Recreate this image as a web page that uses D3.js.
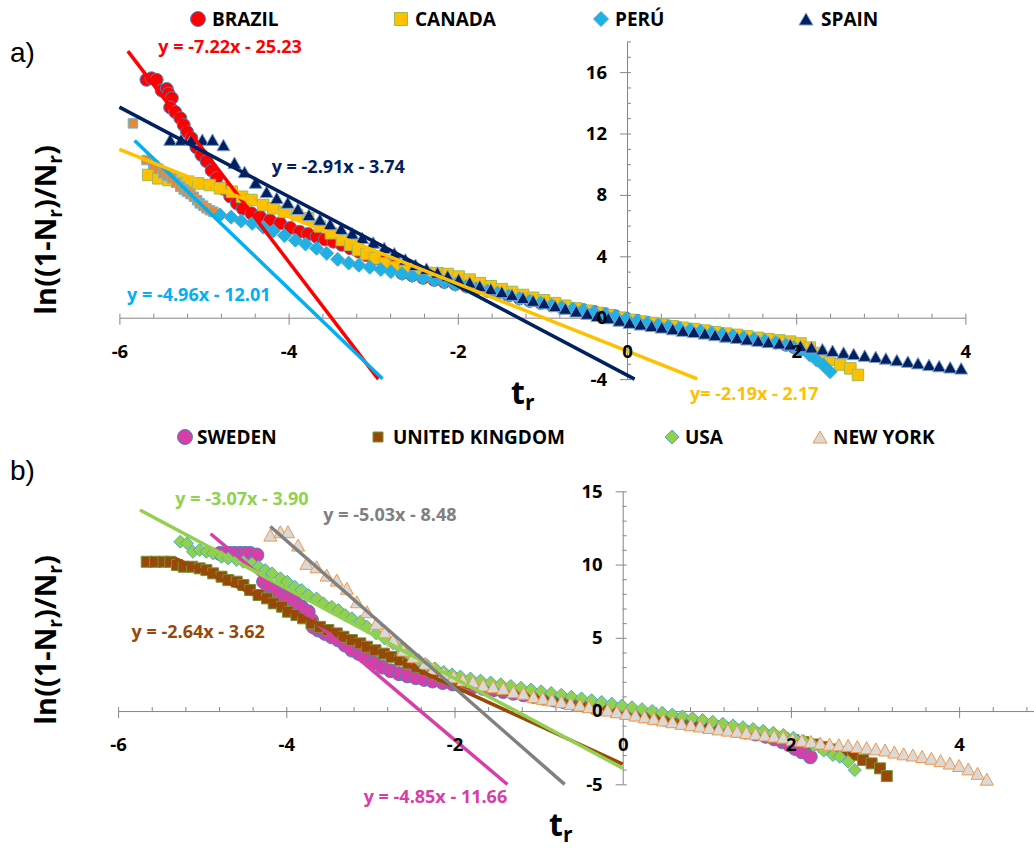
<!DOCTYPE html>
<html>
<head>
<meta charset="utf-8">
<script src="https://cdn.jsdelivr.net/npm/d3@7"></script>
<style>
  body { margin: 0; background: #fff; }
  svg text { font-family: "Open Sans", "DejaVu Sans", sans-serif; font-weight: bold; }
</style>
</head>
<body>
<svg id="chart" width="1034" height="848"></svg>
<script>
// ---------- panel a) data : [t_r, ln((1-Nr)/Nr)] ----------
const namesA = ["BRAZIL", "CANADA", "PERÚ", "SPAIN"];

const brazil = [[-5.68,15.5],[-5.62,15.6],[-5.56,15.5],[-5.50,14.8],[-5.44,14.9],[-5.42,14.6],[-5.38,14.3],[-5.40,13.7],
  [-5.34,13.4],[-5.28,13.0],[-5.24,12.55],[-5.20,12.1],[-5.15,11.7],[-5.09,11.1],[-5.03,10.6],[-4.97,10.2],[-4.91,9.6],
  [-4.85,9.1],[-4.77,8.4],[-4.69,7.9],[-4.61,7.45],[-4.54,7.1],[-4.44,6.8],[-4.34,6.6],[-4.22,6.35],[-4.10,6.15],
  [-3.98,5.85],[-3.87,5.6],[-3.77,5.45],[-3.67,5.28],[-3.57,5.1],[-3.47,4.95],[-3.37,4.75],[-3.27,4.52],[-3.17,4.3],
  [-3.08,4.08],[-2.98,3.85],[-2.88,3.65],[-2.76,3.45],[-2.66,2.9],[-2.54,2.76],[-2.41,2.6],[-2.28,2.47],[-2.16,2.33],
  [-2.03,2.19],[-1.90,2.05],[-1.78,1.91],[-1.65,1.76],[-1.53,1.62],[-1.40,1.44],[-1.27,1.26],[-1.15,1.1],[-1.02,0.97],
  [-0.89,0.83],[-0.77,0.69],[-0.64,0.58],[-0.52,0.5],[-0.39,0.38],[-0.26,0.23],[-0.14,0.1],[-0.01,-0.06],[0.12,-0.2],
  [0.24,-0.33],[0.37,-0.45],[0.49,-0.57],[0.62,-0.68],[0.75,-0.78],[0.87,-0.88],[1.00,-0.98],[1.13,-1.08],[1.25,-1.18],
  [1.38,-1.28],[1.50,-1.38],[1.63,-1.48],[1.76,-1.6],[1.88,-1.76],[1.97,-1.9],[2.05,-2.05]];

const canada = [[-5.66,9.3],[-5.54,9.08],[-5.42,8.97],[-5.30,8.97],[-5.19,8.86],[-5.07,8.75],[-4.93,8.64],[-4.81,8.43],
  [-4.67,8.21],[-4.55,7.88],[-4.44,7.67],[-4.30,7.34],[-4.18,7.13],[-4.05,6.9],[-3.90,6.69],[-3.77,6.48],[-3.63,5.95],
  [-3.50,5.5],[-3.37,5.06],[-3.27,4.75],[-3.18,4.41],[-3.08,4.15],[-2.98,3.87],[-2.86,3.55],[-2.74,3.3],[-2.62,3.12],
  [-2.49,3.0],[-2.37,2.92],[-2.24,2.9],[-2.12,2.85],[-1.99,2.68],[-1.86,2.48],[-1.74,2.25],[-1.61,2.05],[-1.48,1.86],
  [-1.36,1.68],[-1.23,1.48],[-1.11,1.3],[-0.98,1.13],[-0.85,0.95],[-0.73,0.78],[-0.60,0.6],[-0.47,0.45],[-0.35,0.31],
  [-0.22,0.16],[-0.09,0.0],[0.03,-0.14],[0.16,-0.25],[0.29,-0.35],[0.41,-0.45],[0.54,-0.56],[0.66,-0.66],[0.79,-0.74],
  [0.92,-0.84],[1.04,-0.94],[1.17,-1.04],[1.30,-1.12],[1.42,-1.22],[1.55,-1.31],[1.67,-1.4],[1.80,-1.48],[1.93,-1.56],
  [2.05,-1.68],[2.16,-1.95],[2.28,-2.3],[2.40,-2.75],[2.52,-3.05],[2.64,-3.3],[2.73,-3.73]];

// orange points at the head of the Perú curve
const peruEarly = [[-5.84,12.66],[-5.68,10.27],[-5.60,9.95],[-5.54,9.7],[-5.48,9.4],[-5.43,9.25],[-5.38,9.08],[-5.33,8.8],
  [-5.28,8.53],[-5.24,8.35],[-5.20,8.2],[-5.16,8.05],[-5.12,7.88],[-5.08,7.65],[-5.05,7.45],[-5.01,7.3],[-4.97,7.13],
  [-4.93,7.0],[-4.89,6.9]];

const peru = [[-4.81,6.69],[-4.68,6.55],[-4.56,6.3],[-4.43,6.15],[-4.30,5.9],[-4.18,5.65],[-4.05,5.35],[-3.92,5.05],
  [-3.80,4.8],[-3.67,4.52],[-3.55,4.2],[-3.42,3.8],[-3.29,3.56],[-3.17,3.42],[-3.04,3.28],[-2.91,3.14],[-2.79,3.0],
  [-2.66,2.87],[-2.54,2.73],[-2.41,2.58],[-2.28,2.45],[-2.16,2.31],[-2.03,2.17],[-1.90,2.03],[-1.78,1.89],[-1.65,1.74],
  [-1.53,1.6],[-1.40,1.42],[-1.27,1.24],[-1.15,1.08],[-1.02,0.95],[-0.89,0.81],[-0.77,0.67],[-0.64,0.56],[-0.52,0.48],
  [-0.39,0.36],[-0.26,0.21],[-0.14,0.08],[-0.01,-0.08],[0.12,-0.22],[0.24,-0.35],[0.37,-0.47],[0.49,-0.59],[0.62,-0.7],
  [0.75,-0.8],[0.87,-0.9],[1.00,-1.0],[1.13,-1.1],[1.25,-1.2],[1.38,-1.3],[1.50,-1.4],[1.63,-1.5],[1.76,-1.62],
  [1.88,-1.78],[1.97,-1.93],[2.05,-2.11],[2.16,-2.43],[2.24,-2.76],[2.32,-3.08],[2.40,-3.52]];

const spain = [[-5.40,11.6],[-5.27,11.6],[-5.15,11.6],[-5.02,11.6],[-4.90,11.6],[-4.77,11.25],[-4.64,10.1],[-4.52,9.5],
  [-4.39,8.8],[-4.26,8.2],[-4.14,7.8],[-4.01,7.5],[-3.89,7.1],[-3.76,6.7],[-3.63,6.4],[-3.51,6.1],[-3.38,5.8],[-3.25,5.5],
  [-3.13,5.2],[-3.00,4.9],[-2.87,4.55],[-2.75,4.2],[-2.62,3.8],[-2.50,3.45],[-2.37,3.2],[-2.24,2.95],[-2.12,2.72],
  [-1.99,2.5],[-1.86,2.3],[-1.74,2.07],[-1.61,1.87],[-1.48,1.68],[-1.36,1.5],[-1.23,1.3],[-1.11,1.12],[-0.98,0.95],
  [-0.85,0.77],[-0.73,0.6],[-0.60,0.42],[-0.47,0.27],[-0.35,0.13],[-0.22,-0.02],[-0.09,-0.18],[0.03,-0.32],[0.16,-0.43],
  [0.29,-0.53],[0.41,-0.63],[0.54,-0.74],[0.66,-0.84],[0.79,-0.92],[0.92,-1.02],[1.04,-1.12],[1.17,-1.22],[1.30,-1.3],
  [1.42,-1.4],[1.55,-1.49],[1.67,-1.58],[1.80,-1.66],[1.93,-1.74],[2.05,-1.84],[2.18,-1.93],[2.31,-2.05],[2.43,-2.15],
  [2.56,-2.27],[2.68,-2.36],[2.81,-2.47],[2.94,-2.55],[3.06,-2.65],[3.19,-2.76],[3.32,-2.86],[3.44,-2.96],[3.57,-3.07],
  [3.69,-3.15],[3.82,-3.23],[3.95,-3.3]];

// trend lines of panel a (order: Brazil, Spain, Perú, Canada)
const fitLabelA = ["y = -7.22x - 25.23", "y = -2.91x - 3.74", "y = -4.96x - 12.01", "y= -2.19x - 2.17"];
const fitSlopeA = [-7.22, -2.91, -5.30, -2.19];
const fitInterceptA = [-25.23, -3.74, -19.30, -2.17];
const fitFromA = [-5.90, -6.0, -5.82, -6.0];
const fitToA = [-2.94, 0.09, -2.89, 0.83];
const fitLabelAtA = [[-5.54, 17.25], [-4.20, 9.43], [-5.91, 1.09], [0.745, -5.39]];

// ---------- panel b) data ----------
const namesB = ["SWEDEN", "UNITED KINGDOM", "USA", "NEW YORK"];

const sweden = [[-4.79,10.76],[-4.73,10.76],[-4.67,10.76],[-4.61,10.76],[-4.55,10.76],[-4.49,10.76],[-4.43,10.76],
  [-4.35,10.65],[-4.27,8.83],[-4.21,8.49],[-4.13,8.14],[-4.05,7.92],[-3.98,7.69],[-3.90,7.46],[-3.82,7.12],[-3.74,6.78],
  [-3.70,6.21],[-3.68,5.75],[-3.62,5.53],[-3.54,5.3],[-3.46,5.07],[-3.38,4.85],[-3.30,4.5],[-3.22,4.16],[-3.14,3.94],
  [-3.06,3.71],[-2.96,3.3],[-2.86,3.0],[-2.76,2.75],[-2.66,2.55],[-2.56,2.4],[-2.46,2.28],[-2.36,2.16],[-2.26,2.05],
  [-2.14,1.95],[-2.02,1.85],[-1.90,1.75],[-1.78,1.65],[-1.66,1.55],[-1.54,1.44],[-1.42,1.33],[-1.30,1.22],[-1.18,1.11],
  [-1.06,1.0],[-0.94,0.88],[-0.82,0.76],[-0.70,0.64],[-0.58,0.52],[-0.46,0.4],[-0.34,0.28],[-0.22,0.16],[-0.10,0.04],
  [0.02,-0.08],[0.14,-0.2],[0.26,-0.32],[0.38,-0.44],[0.50,-0.55],[0.62,-0.66],[0.74,-0.77],[0.86,-0.88],[0.98,-0.99],
  [1.10,-1.1],[1.22,-1.21],[1.34,-1.32],[1.46,-1.44],[1.58,-1.57],[1.70,-1.72],[1.80,-1.9],[1.90,-2.1],[1.98,-2.3],
  [2.05,-2.55],[2.13,-2.78],[2.23,-3.12]];

const unitedKingdom = [[-5.66,10.19],[-5.56,10.19],[-5.46,10.19],[-5.38,10.19],[-5.30,9.97],[-5.22,9.85],[-5.12,9.85],
  [-5.03,9.74],[-4.95,9.62],[-4.87,9.4],[-4.77,9.17],[-4.69,8.94],[-4.59,8.83],[-4.51,8.6],[-4.43,8.26],[-4.33,7.92],
  [-4.23,7.69],[-4.15,7.35],[-4.05,7.12],[-3.98,6.78],[-3.88,6.55],[-3.80,6.33],[-3.70,5.99],[-3.60,5.75],[-3.50,5.53],
  [-3.40,5.3],[-3.32,5.07],[-3.22,4.85],[-3.12,4.62],[-3.04,4.39],[-2.94,4.15],[-2.84,3.92],[-2.75,3.7],[-2.65,3.48],
  [-2.55,3.25],[-2.45,3.02],[-2.35,2.8],[-2.25,2.57],[-2.15,2.35],[-2.05,2.12],[-1.93,1.98],[-1.81,1.86],[-1.69,1.74],
  [-1.57,1.62],[-1.45,1.5],[-1.33,1.38],[-1.21,1.26],[-1.09,1.14],[-0.97,1.02],[-0.85,0.9],[-0.73,0.78],[-0.61,0.66],
  [-0.49,0.54],[-0.37,0.42],[-0.25,0.3],[-0.13,0.18],[-0.01,0.06],[0.11,-0.06],[0.23,-0.18],[0.35,-0.3],[0.47,-0.42],
  [0.59,-0.54],[0.71,-0.66],[0.83,-0.78],[0.95,-0.9],[1.07,-1.02],[1.19,-1.14],[1.31,-1.26],[1.43,-1.38],[1.55,-1.5],
  [1.67,-1.62],[1.79,-1.74],[1.91,-1.86],[2.03,-1.98],[2.15,-2.12],[2.27,-2.28],[2.39,-2.45],[2.50,-2.62],[2.62,-2.8],
  [2.74,-3.0],[2.86,-3.34],[2.96,-3.57],[3.06,-3.91],[3.14,-4.44]];

const usa = [[-5.26,11.56],[-5.18,11.45],[-5.11,10.87],[-5.03,10.99],[-4.95,10.87],[-4.87,10.76],[-4.77,10.53],
  [-4.69,10.42],[-4.59,10.31],[-4.51,10.19],[-4.41,10.08],[-4.33,9.85],[-4.25,9.62],[-4.17,9.4],[-4.07,9.06],[-3.99,8.83],
  [-3.90,8.49],[-3.82,8.26],[-3.74,7.92],[-3.64,7.69],[-3.56,7.35],[-3.46,7.12],[-3.38,6.89],[-3.30,6.55],[-3.22,6.33],
  [-3.12,6.1],[-3.04,5.75],[-2.93,5.3],[-2.83,4.95],[-2.73,4.62],[-2.63,4.22],[-2.53,3.82],[-2.43,3.48],[-2.33,3.14],
  [-2.23,2.9],[-2.13,2.68],[-2.03,2.5],[-1.93,2.36],[-1.81,2.22],[-1.69,2.08],[-1.57,1.95],[-1.45,1.83],[-1.33,1.71],
  [-1.21,1.59],[-1.09,1.47],[-0.97,1.35],[-0.85,1.23],[-0.73,1.11],[-0.61,0.98],[-0.49,0.86],[-0.37,0.74],[-0.25,0.62],
  [-0.13,0.5],[-0.01,0.38],[0.11,0.26],[0.23,0.13],[0.35,0.01],[0.47,-0.12],[0.59,-0.24],[0.71,-0.37],[0.83,-0.49],
  [0.95,-0.61],[1.07,-0.73],[1.19,-0.86],[1.31,-0.98],[1.43,-1.1],[1.55,-1.22],[1.67,-1.35],[1.79,-1.48],[1.91,-1.63],
  [2.03,-1.82],[2.15,-2.05],[2.27,-2.35],[2.39,-2.7],[2.50,-3.0],[2.58,-3.12],[2.68,-3.46],[2.76,-4.03]];

const newYork = [[-4.19,12.01],[-4.07,12.24],[-3.98,12.24],[-3.86,11.33],[-3.76,10.08],[-3.64,9.85],[-3.52,9.28],
  [-3.40,8.94],[-3.28,8.38],[-3.16,7.46],[-3.04,6.78],[-2.93,5.99],[-2.83,5.41],[-2.73,4.85],[-2.61,4.16],[-2.49,3.71],
  [-2.35,3.26],[-2.25,2.91],[-2.13,2.57],[-2.01,2.34],[-1.90,2.12],[-1.78,2.0],[-1.66,1.77],[-1.54,1.66],[-1.42,1.55],
  [-1.30,1.32],[-1.18,1.21],[-1.06,0.98],[-0.95,0.87],[-0.84,0.76],[-0.73,0.64],[-0.62,0.52],[-0.51,0.41],[-0.40,0.3],
  [-0.29,0.18],[-0.18,0.07],[-0.07,-0.05],[0.04,-0.16],[0.15,-0.27],[0.26,-0.39],[0.37,-0.5],[0.48,-0.61],[0.59,-0.73],
  [0.70,-0.84],[0.81,-0.93],[0.92,-1.02],[1.03,-1.12],[1.14,-1.22],[1.25,-1.3],[1.36,-1.38],[1.47,-1.46],[1.58,-1.55],
  [1.69,-1.63],[1.80,-1.7],[1.91,-1.78],[2.02,-1.92],[2.13,-2.0],[2.24,-2.08],[2.35,-2.18],[2.46,-2.26],[2.57,-2.3],
  [2.68,-2.34],[2.79,-2.42],[2.90,-2.5],[3.01,-2.58],[3.12,-2.66],[3.23,-2.8],[3.34,-2.92],[3.45,-3.0],[3.56,-3.1],
  [3.67,-3.22],[3.78,-3.38],[3.89,-3.55],[4.00,-3.72],[4.11,-3.95],[4.22,-4.25],[4.33,-4.65]];

// trend lines of panel b (order: Sweden, UK, USA, New York)
const fitLabelB = ["y = -4.85x - 11.66", "y = -2.64x - 3.62", "y = -3.07x - 3.90", "y = -5.03x - 8.48"];
const fitSlopeB = [-4.85, -2.64, -3.07, -5.03];
const fitInterceptB = [-11.66, -3.62, -3.90, -8.48];
const fitFromB = [-4.90, -5.32, -5.74, -4.19];
const fitToB = [-1.37, 0, 0, -0.69];
const fitLabelAtB = [[-3.08, -6.28], [-5.84, 4.98], [-5.32, 14.06], [-3.56, 12.97]];

// axis ticks
const xMajor = [-6, -4, -2, 0, 2, 4];
const xMinorA = d3.range(-6, 4.01, 0.4);
const xMinorB = d3.range(-6, 5.01, 0.4);
const yMajorA = [-4, 0, 4, 8, 12, 16];
const yMinorA = d3.range(-4, 18.01, 1);
const yMajorB = [-5, 0, 5, 10, 15];
const yMinorB = d3.range(-5, 15.01, 1);

// ---------- drawing ----------
const svg = d3.select("#chart");
const AXIS = "#868686";

const xa = d3.scaleLinear().domain([-6, 4]).range([119.4, 965.4]);
const ya = d3.scaleLinear().domain([-4, 18]).range([379.1, 41.4]);
const xb = d3.scaleLinear().domain([-6, 5]).range([118.1, 1043.2]);
const yb = d3.scaleLinear().domain([-5, 15]).range([784.3, 491.3]);

// marker shapes
const circle = r => d3.symbol(d3.symbolCircle, Math.PI * r * r)();
const square = s => d3.symbol(d3.symbolSquare, s * s)();
const diamond = r => `M0,${-r}L${r},0L0,${r}L${-r},0Z`;
const triangle = (w, h) => `M0,${-h / 2}L${w / 2},${h / 2}L${-w / 2},${h / 2}Z`;

function drawAxes(x, y, xMinor, yMajor, yMinor) {
  const g = svg.append("g").style("color", AXIS);
  const gx = g.append("g").attr("transform", `translate(0,${y(0)})`);
  gx.call(d3.axisBottom(x).tickValues(xMinor).tickSize(-4).tickSizeOuter(0).tickFormat(""));
  gx.append("g").call(d3.axisBottom(x).tickValues(xMajor).tickSize(7).tickFormat(""))
    .select(".domain").remove();
  const gy = g.append("g").attr("transform", `translate(${x(0)},0)`);
  gy.call(d3.axisLeft(y).tickValues(yMinor).tickSize(-4).tickSizeOuter(0).tickFormat(""));
  gy.append("g").call(d3.axisLeft(y).tickValues(yMajor).tickSize(7).tickFormat(""))
    .select(".domain").remove();
}

function drawTickLabels(x, y, yMajor) {
  const g = svg.append("g").style("color", "#000");
  g.append("g").attr("transform", `translate(0,${y(0)})`)
    .call(d3.axisBottom(x).tickValues(xMajor).tickSize(0).tickPadding(27).tickFormat(d => String(d)))
    .call(a => a.select(".domain").remove());
  g.append("g").attr("transform", `translate(${x(0)},0)`)
    .call(d3.axisLeft(y).tickValues(yMajor).tickSize(0).tickPadding(20).tickFormat(d => String(d)))
    .call(a => a.select(".domain").remove());
  g.selectAll("text").attr("font-size", 18.5);
  g.selectAll("g").attr("font-family", null).attr("font-size", null);
}

function drawMarkers(data, x, y, shape, fill, stroke) {
  svg.append("g").selectAll("path").data(data).join("path")
    .attr("transform", d => `translate(${x(d[0])},${y(d[1])})`)
    .attr("d", shape)
    .attr("fill", fill)
    .attr("stroke", stroke)
    .attr("stroke-width", 1);
}

function drawFits(x, y, slopes, intercepts, from, to, colors) {
  const line = d3.line().x(d => x(d[0])).y(d => y(d[1]));
  slopes.forEach((m, i) => {
    const pts = [from[i], to[i]].map(t => [t, m * t + intercepts[i]]);
    svg.append("path").attr("d", line(pts)).attr("fill", "none")
      .attr("stroke", colors[i]).attr("stroke-width", 3.5);
  });
}

function drawFitLabels(x, y, labels, at, colors) {
  svg.append("g").selectAll("text").data(labels).join("text")
    .attr("x", (d, i) => x(at[i][0]))
    .attr("y", (d, i) => y(at[i][1]))
    .attr("font-size", 18)
    .attr("fill", (d, i) => colors[i])
    .text(d => d);
}

function drawLegend(names, yPos, markerX, textX, shapes, fills, strokes) {
  const g = svg.append("g");
  names.forEach((n, i) => {
    g.append("path").attr("transform", `translate(${markerX[i]},${yPos})`)
      .attr("d", shapes[i]).attr("fill", fills[i]).attr("stroke", strokes[i]).attr("stroke-width", 1);
    g.append("text").attr("x", textX[i]).attr("y", yPos).attr("dy", "0.36em")
      .attr("font-size", 19).text(n);
  });
}

function yTitle(cx, cy) {
  const t = svg.append("text")
    .attr("transform", `translate(${cx},${cy}) rotate(-90)`)
    .attr("text-anchor", "middle")
    .attr("font-size", 29);
  t.append("tspan").text("ln((1-N");
  t.append("tspan").attr("font-size", 19).attr("dy", 6).text("r");
  t.append("tspan").attr("dy", -6).text(")/N");
  t.append("tspan").attr("font-size", 19).attr("dy", 6).text("r");
  t.append("tspan").attr("dy", -6).text(")");
}

function xTitle(x0, y0) {
  const t = svg.append("text").attr("x", x0).attr("y", y0).attr("font-size", 32);
  t.append("tspan").text("t");
  t.append("tspan").attr("font-size", 21).attr("dy", 6).text("r");
}

// ----- panel a -----
const colA = { brazil: "#ff0000", canada: "#ffc000", peru: "#1fb0e6", spain: "#002060" };
drawAxes(xa, ya, xMinorA, yMajorA, yMinorA);
drawMarkers(brazil, xa, ya, circle(6.5), colA.brazil, "#4f81bd");
drawMarkers(canada, xa, ya, square(11.5), colA.canada, "#9bbb59");
drawMarkers(peruEarly, xa, ya, square(9.5), "#e08a3c", "#6fb8d8");
drawMarkers(peru, xa, ya, diamond(7), colA.peru, "#4bacc6");
drawMarkers(spain, xa, ya, triangle(13, 11.5), colA.spain, "#7f9fd0");
const fitColA = ["#ff0000", "#002060", "#00b0f0", "#ffc000"];
drawFits(xa, ya, fitSlopeA, fitInterceptA, fitFromA, fitToA, fitColA);
drawTickLabels(xa, ya, yMajorA);
drawFitLabels(xa, ya, fitLabelA, fitLabelAtA, fitColA);
drawLegend(namesA, 19, [198, 401, 601, 806], [212, 415, 615, 821],
  [circle(7.5), square(13), diamond(7.5), triangle(14, 12)],
  [colA.brazil, colA.canada, colA.peru, colA.spain],
  ["#4f81bd", "#9bbb59", "#4bacc6", "#7f9fd0"]);
yTitle(56, 230);
xTitle(511, 404);

// ----- panel b -----
const colB = { sweden: "#d63fa8", uk: "#984807", usa: "#92d050", ny: "#d9d9d9" };
drawAxes(xb, yb, xMinorB, yMajorB, yMinorB);
drawMarkers(sweden, xb, yb, circle(7), colB.sweden, "#4f81bd");
drawMarkers(unitedKingdom, xb, yb, square(11), colB.uk, "#77933c");
drawMarkers(usa, xb, yb, diamond(6.5), colB.usa, "#4bacc6");
drawMarkers(newYork, xb, yb, triangle(13, 12), colB.ny, "#f79646");
const fitColB = ["#d63fa8", "#984807", "#92d050", "#808080"];
drawFits(xb, yb, fitSlopeB, fitInterceptB, fitFromB, fitToB, fitColB);
drawTickLabels(xb, yb, yMajorB);
drawFitLabels(xb, yb, fitLabelB, fitLabelAtB, fitColB);
drawLegend(namesB, 437, [185, 378, 672, 820], [197, 393, 685, 833],
  [circle(7.5), square(10), diamond(7), triangle(14, 12)],
  [colB.sweden, colB.uk, colB.usa, colB.ny],
  ["#4f81bd", "#77933c", "#4bacc6", "#f79646"]);
yTitle(56, 640);
xTitle(549, 836);

// panel tags
svg.append("text").attr("x", 10).attr("y", 62).attr("font-size", 28)
  .style("font-family", "'Liberation Sans', Arial, sans-serif").style("font-weight", "normal").text("a)");
svg.append("text").attr("x", 10).attr("y", 480).attr("font-size", 28)
  .style("font-family", "'Liberation Sans', Arial, sans-serif").style("font-weight", "normal").text("b)");
</script>
</body>
</html>
